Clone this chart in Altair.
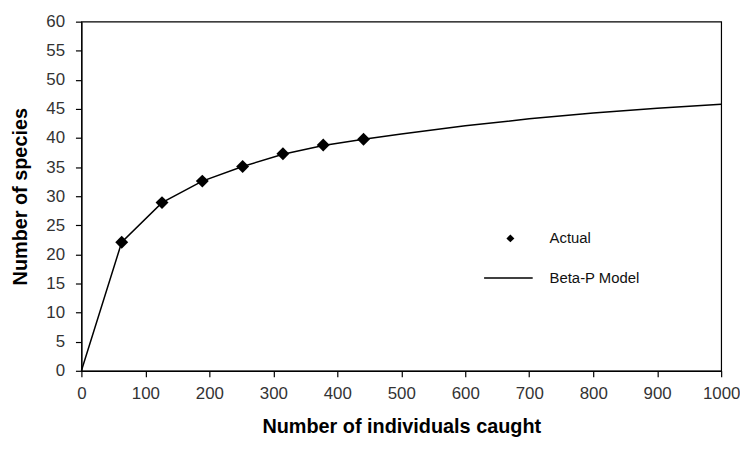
import altair as alt
import pandas as pd

# Observed species accumulation ("Actual")
actual_x = [63, 126, 189, 252, 315, 378, 441]
actual_y = [22.1, 28.9, 32.6, 35.1, 37.3, 38.8, 39.8]

# Beta-P model curve
model_x = [0, 63, 126, 189, 252, 315, 378, 441, 500, 600, 700, 800, 900, 1000]
model_y = [0, 22.1, 28.9, 32.6, 35.1, 37.2, 38.7, 39.8, 40.7, 42.1, 43.3, 44.3, 45.1, 45.8]

x_ticks = list(range(0, 1001, 100))
y_ticks = list(range(0, 61, 5))

actual_df = pd.DataFrame({"x": actual_x, "y": actual_y, "series": "Actual"})
model_df = pd.DataFrame({"x": model_x, "y": model_y, "series": "Beta-P Model"})

FONT = "Liberation Sans"

x_enc = alt.X(
    "x:Q",
    scale=alt.Scale(domain=[0, 1000], nice=False, zero=True),
    axis=alt.Axis(
        title="Number of individuals caught",
        values=x_ticks,
        format="d",
        grid=False,
        labelFlush=False,
        labelOverlap=False,
        tickSize=6,
        labelPadding=9,
        titlePadding=15,
    ),
)
y_enc = alt.Y(
    "y:Q",
    scale=alt.Scale(domain=[0, 60], nice=False),
    axis=alt.Axis(
        title="Number of species",
        values=y_ticks,
        format="d",
        grid=False,
        labelFlush=False,
        labelOverlap=False,
        tickSize=6,
        labelPadding=11,
        titlePadding=15,
    ),
)

line = alt.Chart(model_df).mark_line(color="black", strokeWidth=1.5).encode(
    x=x_enc,
    y=y_enc,
    color=alt.Color(
        "series:N",
        scale=alt.Scale(domain=["Beta-P Model"], range=["black"]),
        legend=alt.Legend(
            title=None,
            orient="none",
            legendX=405,
            legendY=233,
            symbolType="stroke",
            symbolSize=2401,
            symbolStrokeWidth=1.5,
            symbolStrokeColor="black",
            labelOffset=16,
            labelFontSize=15,
            labelFont=FONT,
            labelColor="#111",
        ),
    ),
)

points = alt.Chart(actual_df).mark_point(
    shape="diamond", filled=True, color="black", size=170, opacity=1
).encode(
    x=x_enc,
    y=y_enc,
    shape=alt.Shape(
        "series:N",
        scale=alt.Scale(domain=["Actual"], range=["diamond"]),
        legend=alt.Legend(
            title=None,
            orient="none",
            legendX=425,
            legendY=211,
            symbolSize=64,
            symbolFillColor="black",
            symbolStrokeColor="black",
            labelOffset=32,
            labelFontSize=15,
            labelFont=FONT,
            labelColor="#111",
        ),
    ),
)

chart = (
    alt.layer(line, points)
    .resolve_legend(color="independent", shape="independent")
    .properties(
        width=645,
        height=352,
        autosize=alt.AutoSizeParams(type="none"),
        padding={"left": 74, "top": 12, "right": 19, "bottom": 67},
        background="white",
    )
    .configure_view(stroke="black", strokeWidth=1.2)
    .configure_axis(
        domainColor="black",
        domainWidth=1.2,
        tickColor="black",
        tickWidth=1.2,
        labelFont=FONT,
        labelFontSize=17,
        labelColor="#333",
        titleFont=FONT,
        titleFontSize=20,
        titleFontWeight="bold",
        titleColor="black",
    )
)

chart.save("out.html", embed_options={"renderer": "svg", "actions": False})
